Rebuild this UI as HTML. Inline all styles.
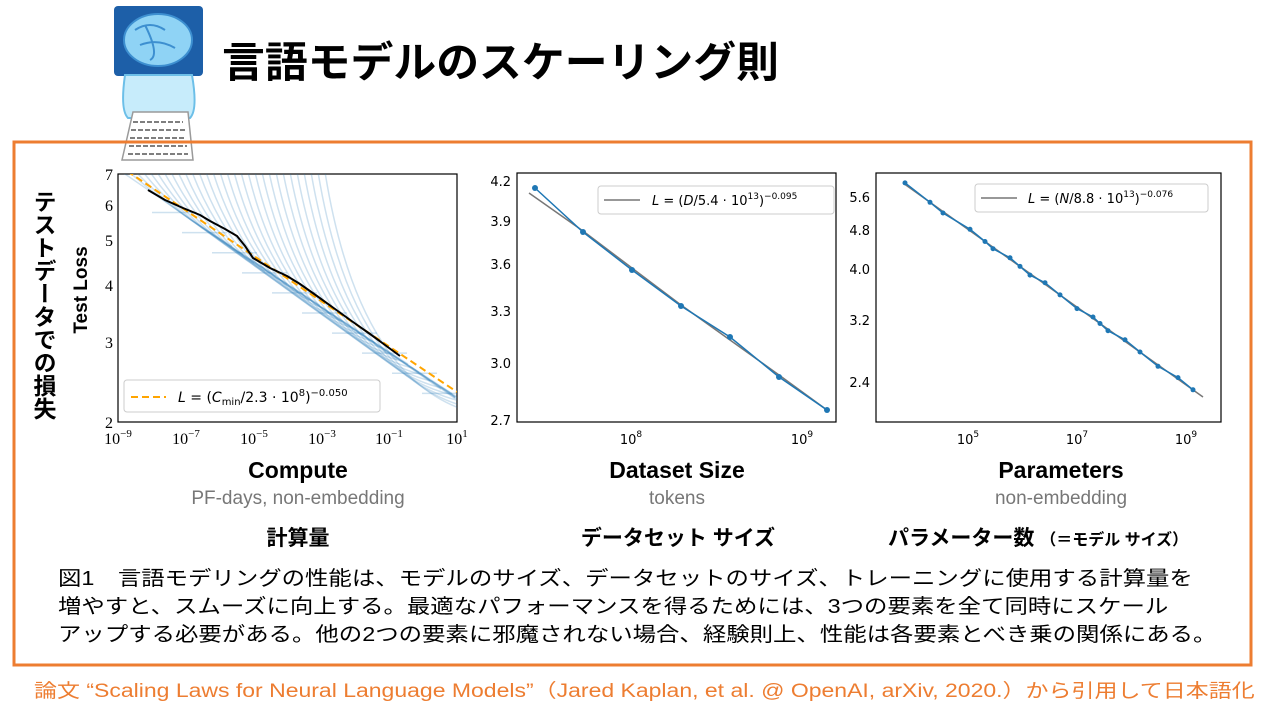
<!DOCTYPE html>
<html><head><meta charset="utf-8">
<style>
body{margin:0;width:1265px;height:703px;background:#fff;overflow:hidden;position:relative;font-family:"Liberation Sans","Noto Sans CJK JP",sans-serif}
.a{position:absolute;white-space:nowrap}
</style></head><body>
<svg class="a" style="left:0;top:0" width="1265" height="703">
<rect x="114" y="6" width="89" height="70" rx="4" fill="#1d5fa8"/>
<ellipse cx="158" cy="40" rx="34" ry="26" fill="#8fd3f5" stroke="#3d8fd0" stroke-width="2"/>
<path d="M135 30 Q150 20 165 30 M140 45 Q158 38 175 48 M145 25 Q160 55 150 60" stroke="#3d8fd0" stroke-width="2" fill="none"/>
<path d="M125 75 Q120 110 128 118 L190 118 Q198 110 192 75 Z" fill="#c7ecfb" stroke="#6cbfe8" stroke-width="2"/>
<polygon points="133,112 188,112 193,160 122,160" fill="#fff" stroke="#9a9a9a" stroke-width="1.5"/>
<g stroke="#555" stroke-width="1.5" stroke-dasharray="5,2">
<line x1="133" y1="122" x2="183" y2="122"/><line x1="131" y1="130" x2="185" y2="130"/><line x1="130" y1="138" x2="186" y2="138"/><line x1="129" y1="146" x2="187" y2="146"/><line x1="128" y1="154" x2="188" y2="154"/></g>
<rect x="14" y="142" width="1237" height="523" fill="none" stroke="#ED7D31" stroke-width="3"/>
<rect x="118" y="174" width="339" height="248" fill="none" stroke="#000" stroke-width="1.2"/>
<rect x="517" y="173" width="319" height="249" fill="none" stroke="#000" stroke-width="1.2"/>
<polyline points="529,193 583,231 632,268 681,305 730,340 779,375 827,410" fill="none" stroke="#777" stroke-width="1.5"/>
<polyline points="535,188 583,232 632,270 681,306 730,337 779,377 827,410" fill="none" stroke="#1f77b4" stroke-width="1.5"/>
<g fill="#1f77b4"><circle cx="535" cy="188" r="3"/><circle cx="583" cy="232" r="3"/><circle cx="632" cy="270" r="3"/><circle cx="681" cy="306" r="3"/><circle cx="730" cy="337" r="3"/><circle cx="779" cy="377" r="3"/><circle cx="827" cy="410" r="3"/></g>
<rect x="598" y="186" width="236" height="28" rx="3" fill="#fff" stroke="#ccc"/>
<line x1="604" y1="200" x2="640" y2="200" stroke="#777" stroke-width="1.5"/>
<rect x="876" y="173" width="345" height="249" fill="none" stroke="#000" stroke-width="1.2"/>
<line x1="903" y1="183" x2="1203" y2="397" stroke="#777" stroke-width="1.5"/>
<g id="c3"></g>
<rect x="975" y="184" width="233" height="28" rx="3" fill="#fff" stroke="#ccc"/>
<line x1="981" y1="198" x2="1017" y2="198" stroke="#777" stroke-width="1.5"/>
<g font-family="Liberation Serif,serif" font-size="16" fill="#000">
<text x="113" y="180" text-anchor="end">7</text><text x="113" y="211" text-anchor="end">6</text><text x="113" y="246" text-anchor="end">5</text><text x="113" y="291" text-anchor="end">4</text><text x="113" y="348" text-anchor="end">3</text><text x="113" y="428" text-anchor="end">2</text>
<text x="118" y="444" text-anchor="middle">10<tspan dy="-7" font-size="11">−9</tspan></text>
<text x="186" y="444" text-anchor="middle">10<tspan dy="-7" font-size="11">−7</tspan></text>
<text x="254" y="444" text-anchor="middle">10<tspan dy="-7" font-size="11">−5</tspan></text>
<text x="322" y="444" text-anchor="middle">10<tspan dy="-7" font-size="11">−3</tspan></text>
<text x="389" y="444" text-anchor="middle">10<tspan dy="-7" font-size="11">−1</tspan></text>
<text x="457" y="444" text-anchor="middle">10<tspan dy="-7" font-size="11">1</tspan></text>
</g>
<g font-family="DejaVu Sans,sans-serif" font-size="13" fill="#000">
<text x="511" y="186" text-anchor="end">4.2</text><text x="511" y="226" text-anchor="end">3.9</text><text x="511" y="269" text-anchor="end">3.6</text><text x="511" y="316" text-anchor="end">3.3</text><text x="511" y="368" text-anchor="end">3.0</text><text x="511" y="425" text-anchor="end">2.7</text>
<text x="631" y="444" text-anchor="middle">10<tspan dy="-7" font-size="9">8</tspan></text>
<text x="802" y="444" text-anchor="middle">10<tspan dy="-7" font-size="9">9</tspan></text>
<text x="870" y="202" text-anchor="end">5.6</text><text x="870" y="235" text-anchor="end">4.8</text><text x="870" y="274" text-anchor="end">4.0</text><text x="870" y="325" text-anchor="end">3.2</text><text x="870" y="387" text-anchor="end">2.4</text>
<text x="968" y="444" text-anchor="middle">10<tspan dy="-7" font-size="9">5</tspan></text>
<text x="1077" y="444" text-anchor="middle">10<tspan dy="-7" font-size="9">7</tspan></text>
<text x="1186" y="444" text-anchor="middle">10<tspan dy="-7" font-size="9">9</tspan></text>
<text x="652" y="205"><tspan font-style="italic">L</tspan> = (<tspan font-style="italic">D</tspan>/5.4 · 10<tspan dy="-6" font-size="9">13</tspan><tspan dy="6">)</tspan><tspan dy="-6" font-size="9">−0.095</tspan></text>
<text x="1028" y="203"><tspan font-style="italic">L</tspan> = (<tspan font-style="italic">N</tspan>/8.8 · 10<tspan dy="-6" font-size="9">13</tspan><tspan dy="6">)</tspan><tspan dy="-6" font-size="9">−0.076</tspan></text>
</g>
</svg>
<div class="a" style="left:222px;top:29px;font-size:42px;font-weight:bold;transform-origin:0 0;transform:scaleX(1.02)">言語モデルのスケーリング則</div>
<div class="a" style="left:26px;top:190px;writing-mode:vertical-rl;font-size:23px;font-weight:bold">テストデータでの損失</div>
<div class="a" style="left:37px;top:279px;transform:rotate(-90deg);font-size:19px;font-weight:bold;width:90px;text-align:center">Test Loss</div>
<div class="a" style="left:198px;top:457px;width:200px;text-align:center;font-size:23px;font-weight:bold">Compute</div>
<div class="a" style="left:168px;top:488px;width:260px;text-align:center;font-size:19px;color:#777">PF-days, non-embedding</div>
<div class="a" style="left:198px;top:522px;width:200px;text-align:center;font-size:21px;font-weight:bold">計算量</div>
<div class="a" style="left:577px;top:457px;width:200px;text-align:center;font-size:23px;font-weight:bold">Dataset Size</div>
<div class="a" style="left:577px;top:488px;width:200px;text-align:center;font-size:19px;color:#777">tokens</div>
<div class="a" style="left:528px;top:522px;width:300px;text-align:center;font-size:21px;font-weight:bold">データセット サイズ</div>
<div class="a" style="left:961px;top:457px;width:200px;text-align:center;font-size:23px;font-weight:bold">Parameters</div>
<div class="a" style="left:931px;top:488px;width:260px;text-align:center;font-size:19px;color:#777">non-embedding</div>
<div class="a" style="left:888px;top:522px;font-size:21px;font-weight:bold">パラメーター数 <span style="font-size:16px">（＝モデル サイズ）</span></div>
<div class="a" style="left:58px;top:565px;font-size:20px;line-height:28px;transform-origin:0 0;transform:scaleX(1.17)">図1　言語モデリングの性能は、モデルのサイズ、データセットのサイズ、トレーニングに使用する計算量を<br>増やすと、スムーズに向上する。最適なパフォーマンスを得るためには、3つの要素を全て同時にスケール<br>アップする必要がある。他の2つの要素に邪魔されない場合、経験則上、性能は各要素とべき乗の関係にある。</div>
<div class="a" style="left:34px;top:676px;font-size:19px;color:#ED7D31;transform-origin:0 0;transform:scaleX(1.21)">論文 “Scaling Laws for Neural Language Models”（Jared Kaplan, et al. @ OpenAI, arXiv, 2020.）から引用して日本語化</div>
<svg class="a" style="left:0;top:0" width="1265" height="703">
<defs><clipPath id="cp"><rect x="118" y="174" width="339" height="248"/></clipPath></defs>
<g clip-path="url(#cp)" id="faint" fill="none" stroke="#1f77b4" stroke-opacity="0.22" stroke-width="1.5"></g>
<polyline clip-path="url(#cp)" points="118,165 457,392" fill="none" stroke="#FFA500" stroke-width="2" stroke-dasharray="7,4"/>
<polyline points="148,190 165,200 183,208 200,215 210,221 225,229 237,236 245,246 253,258 270,268 287,276 300,284 317,296 335,309 353,322 370,334 385,345 400,356" fill="none" stroke="#000" stroke-width="2"/>
<rect x="124" y="380" width="256" height="32" rx="3" fill="#fff" stroke="#ccc"/>
<line x1="131" y1="397" x2="166" y2="397" stroke="#FFA500" stroke-width="2" stroke-dasharray="7,4"/>
<text x="178" y="402" font-family="DejaVu Sans,sans-serif" font-size="14"><tspan font-style="italic">L</tspan> = (<tspan font-style="italic">C</tspan><tspan font-size="10" dy="3">min</tspan><tspan dy="-3">/2.3 · 10</tspan><tspan dy="-6" font-size="10">8</tspan><tspan dy="6">)</tspan><tspan dy="-6" font-size="10">−0.050</tspan></text>
</svg>
<script>
var g=document.getElementById('faint'),s='';
function fy(x){return 165+(x-118)*227/339+2;}
for(var i=0;i<30;i++){var x0=122+i*7,x1=x0+70+i*3,xe=Math.min(x1+40+i,455);
var y1=fy(x1)+4;
s+='<path d="M'+x0+' 172 Q'+(x0+35)+' '+(y1-25)+' '+x1+' '+y1+' L'+xe+' '+(fy(xe)+3+(i%4))+'"/>';
if(i%3==0)s+='<line x1="'+(x1-40)+'" y1="'+(y1-8)+'" x2="'+(x1+5)+'" y2="'+(y1-8)+'"/>';}
g.innerHTML=s;
var xs=[905,930,943,970,985,993,1010,1020,1030,1045,1060,1077,1093,1100,1108,1125,1140,1158,1178,1193],p='',c='';
xs.forEach(function(x,i){var y=183+(x-903)*0.713+((i%3)-1)*1.5;p+=x+','+y.toFixed(1)+' ';c+='<circle cx="'+x+'" cy="'+y.toFixed(1)+'" r="2.5"/>';});
document.getElementById('c3').innerHTML='<polyline points="'+p+'" fill="none" stroke="#1f77b4" stroke-width="1.5"/><g fill="#1f77b4">'+c+'</g>';
</script>
</body></html>
